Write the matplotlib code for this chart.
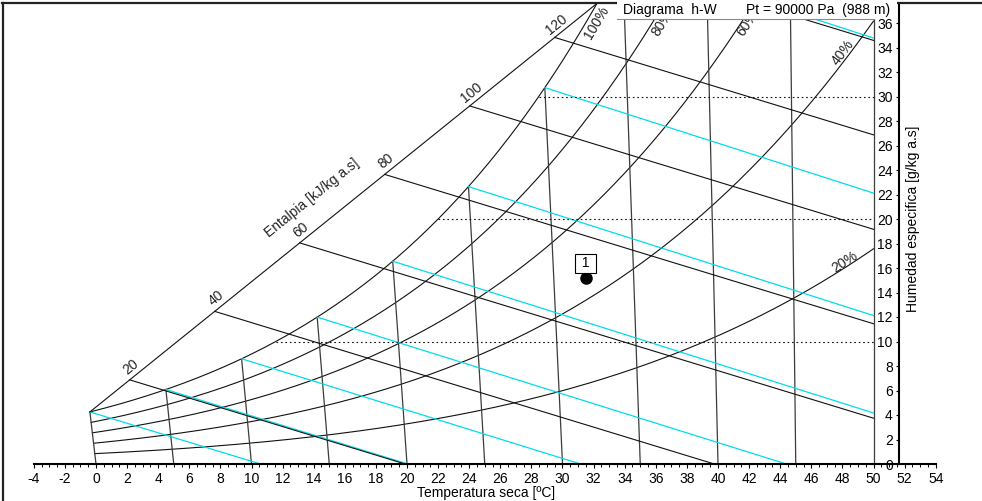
import numpy as np
import matplotlib
matplotlib.use("Agg")
import matplotlib.pyplot as plt
from matplotlib.patches import Rectangle
from matplotlib.lines import Line2D

plt.rcParams['font.family'] = ['Liberation Sans', 'DejaVu Sans']
plt.rcParams['font.size'] = 10
plt.rcParams['axes.unicode_minus'] = False

P_TOTAL = 90000.0          # Pa
ISOTHERMS = [0, 5, 10, 15, 20, 25, 30, 35, 40, 45, 50]
RH_CURVES = [20, 40, 60, 80, 100]
ENTHALPIES = [20, 40, 60, 80, 100, 120, 140]
ENTHALPY_LABELS = [20, 40, 60, 80, 100, 120]
WET_BULBS = [0, 5, 10, 15, 20, 25, 30, 35]
W_GUIDES = [10, 20, 30]
X_TICKS = list(range(-4, 55, 2))
Y_TICKS = list(range(0, 37, 2))

POINT_NAME = '1'
POINT_T = 32.0
POINT_W = 15.2

T_MAX = 50.0
W_TOP = 37.6

# label placement along the curves: W where it sits, offset in pixels
RH_LABEL_W = {100: 36.0, 80: 36.0, 60: 36.0, 40: 33.6, 20: 16.5}
RH_LABEL_DX = {100: 11, 80: 10, 60: 7, 40: -8, 20: -9}

LINE = '#111111'
ISO = '#3c3c3c'
CYAN = '#00dde8'


def p_sat(t):
    return 610.94 * np.exp(17.625 * t / (t + 243.04))


def t_from_psat(p):
    a = np.log(p / 610.94)
    return 243.04 * a / (17.625 - a)


def w_from_pw(pw):
    return 1000 * 0.622 * pw / (P_TOTAL - pw)


def pw_from_w(w):
    w = w / 1000
    return w * P_TOTAL / (0.622 + w)


def chart_x(t, w):
    # oblique h-W diagram, the 50 C isotherm is vertical
    return t - 1.86 * (w / 1000) * (T_MAX - t) / 1.006


def enthalpy(x, w):
    return 1.006 * x + 2.594 * w


def w_wetbulb(t, twb):
    ws = w_from_pw(p_sat(twb)) / 1000
    num = (2501 - 2.326 * twb) * ws - 1.006 * (t - twb)
    return 1000 * num / (2501 + 1.86 * t - 4.186 * twb)


fig = plt.figure(figsize=(9.82, 5.01), dpi=100)
ax = fig.add_axes([0, 0, 1, 1])
ax.set_xlim(-96 / 15.55, (982 - 96) / 15.55)
ax.set_ylim(-(501 - 464) / 12.25, 464 / 12.25)
ax.patch.set_alpha(0)

# saturation curve
t_top = t_from_psat(pw_from_w(W_TOP))
ts = np.linspace(0, t_top, 200)
ws = w_from_pw(p_sat(ts))
ax.plot(chart_x(ts, ws), ws, color=LINE, lw=0.8)

# relative humidity curves
for rh in RH_CURVES[:-1]:
    t_end = min(T_MAX, t_from_psat(pw_from_w(W_TOP) / (rh / 100)))
    t = np.linspace(0, t_end, 200)
    w = w_from_pw(rh / 100 * p_sat(t))
    ax.plot(chart_x(t, w), w, color=LINE, lw=0.8)

# isotherms
for t in ISOTHERMS:
    w_end = min(w_from_pw(p_sat(t)), W_TOP)
    ax.plot([chart_x(t, 0), chart_x(t, w_end)], [0, w_end], color=ISO, lw=0.9)

# wet bulb lines
for twb in WET_BULBS:
    ws0 = w_from_pw(p_sat(twb)) / 1000
    t0 = twb + (2501 - 2.326 * twb) * ws0 / 1.006
    t = np.linspace(twb, min(t0, T_MAX), 600)
    w = w_wetbulb(t, twb)
    keep = (w <= W_TOP) & (w >= -1e-9)
    ax.plot(chart_x(t[keep], w[keep]), w[keep], color=CYAN, lw=0.9)

# enthalpy scale line
w_a = w_from_pw(p_sat(0))
a_pt = np.array([chart_x(0, w_a), w_a])
b_pt = np.array([chart_x(t_top, W_TOP), W_TOP])
h_a = enthalpy(*a_pt)
h_b = enthalpy(*b_pt)
ax.plot([a_pt[0], b_pt[0]], [a_pt[1], b_pt[1]], color=LINE, lw=0.8)


def scale_point(h):
    s = (h - h_a) / (h_b - h_a)
    return a_pt + s * (b_pt - a_pt)


for h in ENTHALPIES:
    if h <= h_b:
        x1, w1 = scale_point(h)
    else:
        w1 = W_TOP
        x1 = (h - 2.594 * W_TOP) / 1.006
    if h / 1.006 <= T_MAX:
        x2, w2 = h / 1.006, 0.0
    else:
        x2, w2 = T_MAX, (h - 1.006 * T_MAX) / 2.594
    ax.plot([x1, x2], [w1, w2], color=LINE, lw=0.8)

# constant humidity guides
for wg in W_GUIDES:
    t_s = t_from_psat(pw_from_w(wg))
    ax.plot([chart_x(t_s, wg), T_MAX], [wg, wg], color=LINE, lw=0.8,
            linestyle=(0, (1.5, 2.5)))

# labels on the enthalpy scale
pa = ax.transData.transform(a_pt)
pb = ax.transData.transform(b_pt)
scale_angle = np.degrees(np.arctan2(pb[1] - pa[1], pb[0] - pa[0]))
for h in ENTHALPY_LABELS:
    ax.annotate(str(h), xy=scale_point(h), xytext=(1.5, 13),
                textcoords='offset pixels', ha='center', va='center',
                rotation=scale_angle, color='#222222', fontsize=10)
ax.annotate('Entalpia [kJ/kg a.s]', xy=scale_point(67), xytext=(-17, 21),
            textcoords='offset pixels', ha='center', va='center',
            rotation=scale_angle, color='#222222', fontsize=10)

# relative humidity labels
for rh in RH_CURVES:
    wl = RH_LABEL_W[rh]
    tl = t_from_psat(pw_from_w(wl) / (rh / 100))
    t2 = tl - 0.3
    w2 = w_from_pw(rh / 100 * p_sat(t2))
    p1 = ax.transData.transform((chart_x(tl, wl), wl))
    p2 = ax.transData.transform((chart_x(t2, w2), w2))
    ang = np.degrees(np.arctan2(p1[1] - p2[1], p1[0] - p2[0]))
    ax.annotate(f'{rh}%', xy=(chart_x(tl, wl), wl), xytext=(RH_LABEL_DX[rh], 0),
                textcoords='offset pixels', ha='center', va='center',
                rotation=ang, color='#222222', fontsize=10)

# state point
px = chart_x(POINT_T, POINT_W)
ax.plot([px], [POINT_W], 'o', color='black', ms=8)
ax.annotate(f' {POINT_NAME} ', xy=(px, POINT_W), xytext=(0, 14.5),
            textcoords='offset pixels', ha='center', va='center', fontsize=10,
            bbox=dict(boxstyle='square,pad=0.2', fc='white', ec='black', lw=0.8))

# axes
for side in ['top', 'right']:
    ax.spines[side].set_visible(False)
ax.spines['bottom'].set_position(('data', 0))
ax.spines['bottom'].set_bounds(-4, 54)
ax.spines['left'].set_position(('data', (899 - 96) / 15.55))
ax.spines['left'].set_bounds(0, 461 / 12.25)
for side in ['bottom', 'left']:
    ax.spines[side].set_linewidth(1.5)
    ax.spines[side].set_color('black')

ax.set_xticks(X_TICKS)
ax.set_xticks(np.arange(-4, 54.01, 0.5), minor=True)
ax.set_yticks(Y_TICKS)
ax.tick_params(axis='x', which='major', direction='out', length=3.2, width=0.8, pad=2.5,
               labelsize=10)
ax.tick_params(axis='x', which='minor', direction='out', length=2.2, width=0.7)
ax.tick_params(axis='y', which='major', direction='out', length=2.5, width=0.8, pad=2,
               labelsize=10)

ax.set_xlabel('Temperatura seca [ºC]', fontsize=10)
ax.xaxis.set_label_coords(486 / 982, 8 / 501)
ax.xaxis.label.set_va('center')
ax.set_ylabel('Humedad especifica [g/kg a.s]', fontsize=10)
ax.yaxis.set_label_position('right')
ax.yaxis.set_label_coords(913 / 982, 282 / 501)
ax.yaxis.label.set_va('center')

# window frame and title strip
fig.add_artist(Line2D([0.003, 0.003], [0, 0.995], transform=fig.transFigure,
                      color='#222222', lw=1.6))
fig.add_artist(Line2D([0.002, 1], [0.995, 0.995], transform=fig.transFigure,
                      color='#222222', lw=1.6))
fig.add_artist(Rectangle((617 / 982, 1 - 19 / 501), 280 / 982, 19 / 501,
                         transform=fig.transFigure, fc='white', ec='none', zorder=3))
fig.add_artist(Line2D([617 / 982, 874 / 982], [1 - 19 / 501] * 2, transform=fig.transFigure,
                      color='#8a8a8a', lw=0.8, zorder=3.5))
fig.text(623 / 982, 1 - 10 / 501, 'Diagrama  h-W', ha='left', va='center',
         fontsize=10, zorder=4)
fig.text(746 / 982, 1 - 10 / 501, 'Pt = 90000 Pa  (988 m)', ha='left', va='center',
         fontsize=10, zorder=4)

fig.savefig('out.png', dpi=100)
